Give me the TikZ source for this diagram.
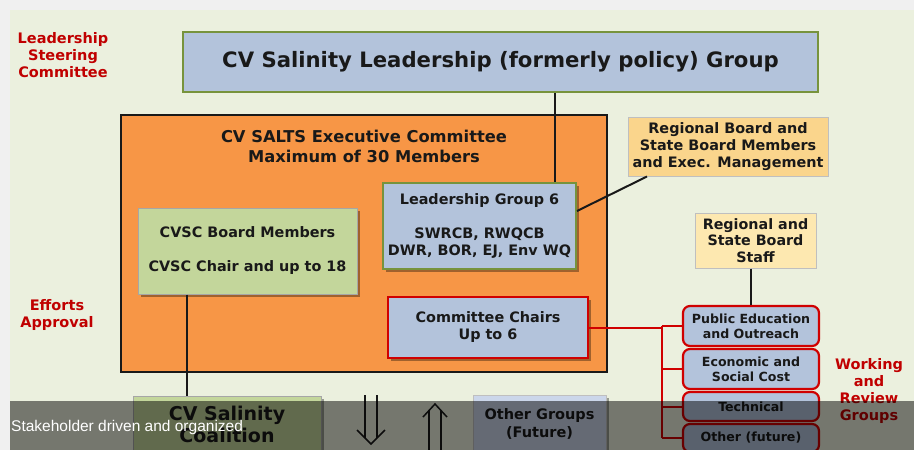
\documentclass[tikz,border=0pt]{standalone}
\usepackage{fontspec}
\setmainfont{DejaVu Sans}
\newfontfamily\capfont{Liberation Sans}
\usetikzlibrary{shadows}
\definecolor{bgc}{HTML}{EBF0DE}
\definecolor{bluebox}{HTML}{B3C3DB}
\definecolor{greenedge}{HTML}{77933C}
\definecolor{orangebox}{HTML}{F79646}
\definecolor{yellowbox}{HTML}{FAD58C}
\definecolor{paleyellow}{HTML}{FDE8B0}
\definecolor{greenbox}{HTML}{C3D69B}
\definecolor{redc}{HTML}{C00000}
\definecolor{redline}{HTML}{D00000}
\definecolor{palebluebox}{HTML}{CBD6EA}
\tikzset{
  fs/.style args={#1/#2}{font=\fontsize{#1}{#2}\selectfont\bfseries},
  shad/.style={drop shadow={shadow xshift=3pt, shadow yshift=-3pt, opacity=0.35, fill=black}},
  basebox/.style={draw, align=center, inner sep=0pt, text=black!90},
  bluegreen/.style={basebox, fill=bluebox, draw=greenedge, line width=2pt},
  yellowstyle/.style={basebox, fill=yellowbox, draw=black!25, line width=1pt},
  paleyellowstyle/.style={basebox, fill=paleyellow, draw=black!25, line width=1pt},
  greenstyle/.style={basebox, fill=greenbox, draw=black!35, line width=1pt},
  redbox/.style={basebox, fill=bluebox, draw=redline, line width=2pt},
  wgbox/.style={basebox, fill=bluebox, draw=redline, line width=2.2pt, rounded corners=7pt, minimum width=136pt, fs=12.6/15},
  redtext/.style={align=center, text=redc, fs=14.5/17},
  conn/.style={draw=black!90, line width=2pt},
  redconn/.style={draw=redline, line width=2pt},
  arrowline/.style={draw=black!90, line width=1.5pt, line join=miter},
}
\begin{document}
\begin{tikzpicture}[x=1pt, y=-1pt]
\useasboundingbox (0,0) rectangle (914,450);
\fill[black!6] (0,0) rectangle (914,450);
\fill[bgc] (10,10) rectangle (914,450);

% labels
\node[redtext] (lsc) at (63,55) {Leadership\\Steering\\Committee};
\node[redtext] (ea) at (57,314.5) {Efforts\\Approval};
\node[redtext] (wrg) at (869,390.5) {Working\\and\\Review\\Groups};

% top box
\node[bluegreen, minimum width=635pt, minimum height=60pt, fs=21.2/24] (top) at (500.5,62) {CV Salinity Leadership (formerly policy) Group};

% orange exec committee
\node[draw=black!90, fill=orangebox, line width=2pt, minimum width=486pt, minimum height=257pt] (exec) at (364,243.5) {};
\node[align=center, fs=16.3/20, text=black!90] (exectitle) at (364,146) {CV SALTS Executive Committee\\Maximum of 30 Members};

% yellow box
\node[yellowstyle, minimum width=200pt, minimum height=59pt, fs=14.4/17] (ybox) at (728,146.5) {Regional Board and\\State Board Members\\and Exec. Management};

% leadership group 6
\node[bluegreen, shad, minimum width=193pt, minimum height=86pt, fs=14.4/17] (lg6) at (479.5,226) {Leadership Group 6\\[17pt]SWRCB, RWQCB\\DWR, BOR, EJ, Env WQ};

% CVSC board
\node[greenstyle, shad, minimum width=219pt, minimum height=86pt, fs=14.4/17] (cvsc) at (247.5,251) {CVSC Board Members\\[17pt]CVSC Chair and up to 18};

% committee chairs
\node[redbox, shad, minimum width=200pt, minimum height=61pt, fs=14.4/17] (cc) at (488,327.5) {Committee Chairs\\Up to 6};

% staff
\node[paleyellowstyle, minimum width=121pt, minimum height=55pt, fs=14.3/16.5] (staff) at (755.5,240.5) {Regional and\\State Board\\Staff};

% working groups
\node[wgbox, minimum height=40pt] (pubed) at (751,326) {Public Education\\and Outreach};
\node[wgbox, minimum height=40pt] (econ) at (751,369) {Economic and\\Social Cost};
\node[wgbox, minimum height=29pt] (tech) at (751,406.5) {Technical};
\node[wgbox, minimum height=28pt] (otherwg) at (751,438) {Other (future)};

% bottom boxes
\node[greenstyle, shad, minimum width=188pt, minimum height=56pt, fs=19/22] (coal) at (227,424) {CV Salinity\\Coalition};
\node[basebox, fill=palebluebox, draw=black!25, line width=1pt, shad, minimum width=133pt, minimum height=58pt, fs=14.5/18] (othergrp) at (539.5,424) {Other Groups\\(Future)};

% connectors
\coordinate (c1) at (555,0);
\draw[conn] (top.south -| c1) -- (lg6.north -| c1);
\draw[conn] ([xshift=-81pt]ybox.south) -- ([yshift=15pt]lg6.east);
\coordinate (c2) at (187,0);
\draw[conn] (cvsc.south -| c2) -- (coal.north -| c2);
\draw[conn] (staff.south -| pubed.north) -- (pubed.north);

\coordinate (bus) at (662,0);
\draw[redconn] (cc.east) -- (cc.east -| bus);
\draw[redconn] (pubed.west -| bus) -- (otherwg.west -| bus);
\draw[redconn] (pubed.west -| bus) -- (pubed.west);
\draw[redconn] (econ.west -| bus) -- (econ.west);
\draw[redconn] (tech.west -| bus) -- (tech.west);
\draw[redconn] (otherwg.west -| bus) -- (otherwg.west);

% double arrows (down and up)
\coordinate (dtip) at (371,444);
\draw[arrowline] ([shift={(-6,-49)}]dtip) -- ([shift={(-6,-6)}]dtip);
\draw[arrowline] ([shift={(6,-49)}]dtip) -- ([shift={(6,-6)}]dtip);
\draw[arrowline] ([shift={(-14,-14)}]dtip) -- (dtip) -- ([shift={(14,-14)}]dtip);
\coordinate (utip) at (435,404);
\draw[arrowline] ([shift={(-6,6)}]utip) -- ([shift={(-6,50)}]utip);
\draw[arrowline] ([shift={(6,6)}]utip) -- ([shift={(6,50)}]utip);
\draw[arrowline] ([shift={(-12,13)}]utip) -- (utip) -- ([shift={(12,13)}]utip);

% caption overlay
\fill[black, opacity=0.5] (10,401) rectangle (914,450);
\node[anchor=west, text=white, font=\capfont\fontsize{15.5}{18}\selectfont, inner sep=0pt] (cap) at (11,427) {Stakeholder driven and organized};
\end{tikzpicture}
\end{document}
